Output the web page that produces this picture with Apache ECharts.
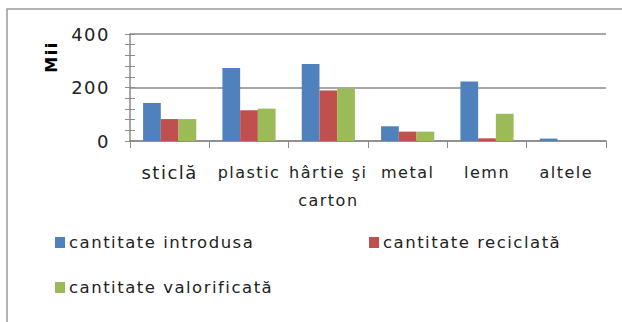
<!DOCTYPE html>
<html>
<head>
<meta charset="utf-8">
<script src="https://cdn.jsdelivr.net/npm/echarts@6/dist/echarts.min.js"></script>
<style>
  html, body { margin: 0; padding: 0; background: #fff; }
  #chart { width: 622px; height: 322px; }
  /* textul din original e mai rarefiat */
  #chart text { letter-spacing: 1.5px; }
</style>
</head>
<body>
<div id="chart"></div>
<script>
// date
var categories = ['sticlă', 'plastic', 'hârtie şi\ncarton', 'metal', 'lemn', 'altele'];
var introdusa = [142, 273, 288, 55, 222, 9];
var reciclata = [82, 115, 189, 35, 10, 0];
var valorificata = [82, 121, 196, 35, 102, 0];
var seriesNames = ['cantitate introdusa', 'cantitate reciclată', 'cantitate valorificată'];
var yTicks = [0, 200, 400];

var font = 'DejaVu Sans, Verdana, sans-serif';
var gray = '#8a8a8a';

var chart = echarts.init(document.getElementById('chart'), null, { renderer: 'svg' });

var xData = categories.map(function(c, i) {
    return i === 0 ? { value: c, textStyle: { fontSize: 18 } } : c;
});

function legendAt(name, left, top) {
    return {
        data: [name],
        left: left, top: top,
        icon: 'rect', itemWidth: 10, itemHeight: 11, itemGap: 0,
        textStyle: { fontFamily: font, fontSize: 16.5, color: '#222', padding: [0, 0, 0, -1] }
    };
}

chart.setOption({
    animation: false,
    color: ['#4F81BD', '#C0504D', '#9BBB59'],
    grid: { left: 130, right: 16, top: 34, bottom: 181 },
    legend: [
        legendAt(seriesNames[0], 50, 229),
        legendAt(seriesNames[1], 364, 229),
        legendAt(seriesNames[2], 50, 274)
    ],
    graphic: [
        {
            type: 'rect',
            shape: { x: 7, y: 9, width: 700, height: 400 },
            style: { fill: 'none', stroke: '#9a9a9a', lineWidth: 1.5 }
        },
        {
            type: 'text',
            x: 51, y: 57,
            rotation: Math.PI / 2,
            style: {
                text: 'Mii', fontFamily: font, fontSize: 16, fontWeight: 'bold',
                fill: '#000', align: 'center', verticalAlign: 'middle'
            }
        }
    ],
    xAxis: {
        type: 'category',
        data: xData,
        axisLine: { lineStyle: { color: gray, width: 1.5 } },
        axisTick: { show: true, length: 7, lineStyle: { color: gray } },
        axisLabel: {
            interval: 0, margin: 17, fontFamily: font, fontSize: 16,
            color: '#222', lineHeight: 28
        }
    },
    yAxis: [
        {
            type: 'value', min: yTicks[0], max: yTicks[2], interval: 200,
            axisLine: { show: true, lineStyle: { color: gray, width: 1.5 } },
            axisTick: { show: true, length: 5, lineStyle: { color: gray } },
            minorTick: { show: true, splitNumber: 5, length: 5, lineStyle: { color: gray } },
            splitLine: { show: true, lineStyle: { color: gray, width: 1.5 } },
            axisLabel: { margin: 20, fontFamily: font, fontSize: 18, color: '#222' }
        },
        {
            type: 'value', min: yTicks[0], max: yTicks[2], interval: 200, position: 'left',
            axisLine: { show: false },
            axisTick: { show: true, inside: true, length: 5, lineStyle: { color: gray } },
            minorTick: { show: true, splitNumber: 5, length: 5, lineStyle: { color: gray } },
            splitLine: { show: false },
            axisLabel: { show: false }
        }
    ],
    series: [
        { name: seriesNames[0], type: 'bar', data: introdusa, barGap: 0, barCategoryGap: '33%' },
        { name: seriesNames[1], type: 'bar', data: reciclata },
        { name: seriesNames[2], type: 'bar', data: valorificata }
    ]
});
</script>
</body>
</html>
